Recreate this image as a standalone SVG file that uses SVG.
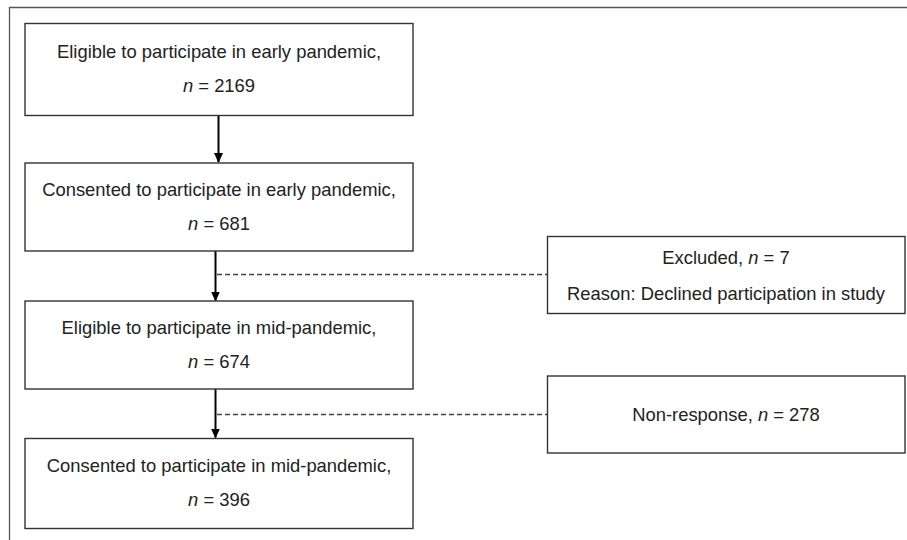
<svg xmlns="http://www.w3.org/2000/svg" width="907" height="540" viewBox="0 0 907 540">
<style>
.box{fill:#fff;stroke:#333;stroke-width:1.4}
.t{font-family:"Liberation Sans",Arial,sans-serif;font-size:18.4px;fill:#222;text-anchor:middle}
.i{font-style:italic}
.arr{stroke:#000;stroke-width:2;fill:none}
.dash{stroke:#444;stroke-width:1.3;stroke-dasharray:5 3;fill:none}
.frame{stroke:#555;stroke-width:1.3;fill:none}
</style>
<defs>
<marker id="ah" markerWidth="10" markerHeight="10" refX="9" refY="5" orient="auto" markerUnits="userSpaceOnUse">
<path d="M0,0.5 L10,5 L0,9.5 Z" fill="#000"/>
</marker>
</defs>
<rect width="907" height="540" fill="#fff"/>
<path class="frame" d="M9.5,540 V7.5 H907"/>
<g id="connectors">
<line class="arr" x1="218.5" y1="115" x2="218.5" y2="162" marker-end="url(#ah)"/>
<line class="arr" x1="215.5" y1="251" x2="215.5" y2="300.5" marker-end="url(#ah)"/>
<line class="arr" x1="215.5" y1="389" x2="215.5" y2="437.5" marker-end="url(#ah)"/>
<line class="dash" x1="217" y1="274.5" x2="547" y2="274.5"/>
<line class="dash" x1="217" y1="414.5" x2="547" y2="414.5"/>
</g>
<g id="n1">
<rect class="box" x="25" y="23.5" width="388" height="92"/>
<text class="t" x="219" y="58">Eligible to participate in early pandemic,</text>
<text class="t" x="219" y="92"><tspan class="i">n</tspan> = 2169</text>
</g>
<g id="n2">
<rect class="box" x="25" y="163" width="388" height="88"/>
<text class="t" x="219" y="196">Consented to participate in early pandemic,</text>
<text class="t" x="219" y="230"><tspan class="i">n</tspan> = 681</text>
</g>
<g id="n3">
<rect class="box" x="25" y="301" width="388" height="88"/>
<text class="t" x="219" y="334">Eligible to participate in mid-pandemic,</text>
<text class="t" x="219" y="368"><tspan class="i">n</tspan> = 674</text>
</g>
<g id="n4">
<rect class="box" x="25" y="438.5" width="388" height="90"/>
<text class="t" x="219" y="472">Consented to participate in mid-pandemic,</text>
<text class="t" x="219" y="506"><tspan class="i">n</tspan> = 396</text>
</g>
<g id="ex1">
<rect class="box" x="547.5" y="236.5" width="357.5" height="77"/>
<text class="t" x="726" y="264">Excluded, <tspan class="i">n</tspan> = 7</text>
<text class="t" x="726" y="300">Reason: Declined participation in study</text>
</g>
<g id="ex2">
<rect class="box" x="547.5" y="376" width="357.5" height="77"/>
<text class="t" x="726" y="421">Non-response, <tspan class="i">n</tspan> = 278</text>
</g>
</svg>
